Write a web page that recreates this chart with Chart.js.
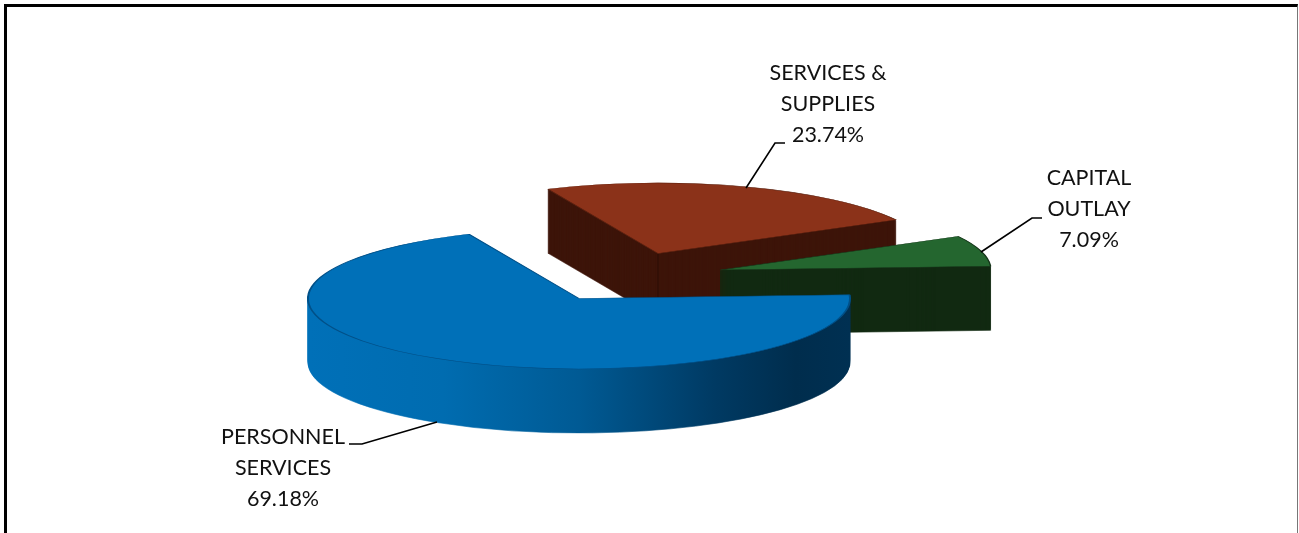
<!DOCTYPE html>
<html lang="en">
<head>
    <meta charset="UTF-8">
    <title>Budget by category</title>
    <style>
        html, body { margin: 0; background: #fff; }
        .wrapper { position: relative; width: 1299px; height: 533px; overflow: hidden; }
        .frame {
            position: absolute; left: 4px; top: 4px; right: 1px; bottom: -10px;
            border-left: 3px solid #000; border-top: 3px solid #000; border-right: 1px solid #777;
        }
        canvas { display: block; }
    </style>
    <script src="https://cdn.jsdelivr.net/npm/chart.js"></script>
</head>
<body>
<div class="wrapper">
    <canvas id="budget-pie" width="1299" height="533"></canvas>
    <div class="frame"></div>
</div>

<script>
    const categories = ['PERSONNEL SERVICES', 'SERVICES & SUPPLIES', 'CAPITAL OUTLAY']
    const shares = [69.18, 23.74, 7.09]
    const topColors = ['#0070b8', '#8b3219', '#24662f']
    const sideColors = ['#005a94', '#3d1409', '#122a12']
    const edgeColors = ['#005088', '#5a2110', '#16351a']

    // label text broken over lines, with the centre of the block and its leader
    const labelLines = [['PERSONNEL', 'SERVICES'], ['SERVICES &', 'SUPPLIES'], ['CAPITAL', 'OUTLAY']]
    const labelCentres = [[283, 437], [828, 73], [1089, 178]]
    const leaders = [
        [[349, 444], [362, 444], [437, 422]],
        [[785, 143], [775, 143], [746, 188]],
        [[1042, 218], [1032, 218], [981, 252]],
    ]

    // how far each slice is pulled out of the pie, in screen pixels
    const pulls = [[-70.5, 32], [8.5, -13], [70.5, 3.5]]
    const paintOrder = [1, 2, 0]
    const tilt = 0.26
    const depth = 64

    const pie3d = {
        id: 'pie3d',
        beforeDatasetsDraw(chart) {
            const ctx = chart.ctx
            const arcs = chart.getDatasetMeta(0).data

            const place = (arc, i, z) => {
                ctx.translate(arc.x + pulls[i][0], arc.y + pulls[i][1] + z)
                ctx.scale(1, tilt)
                ctx.translate(-arc.x, -arc.y)
            }

            for (const i of paintOrder) {
                const arc = arcs[i]
                const base = arc.options
                const r = arc.outerRadius

                // the blue wall gets darker towards the right
                let wall = sideColors[i]
                if (i === 0) {
                    wall = ctx.createLinearGradient(arc.x - r, 0, arc.x + r, 0)
                    wall.addColorStop(0, '#0070b8')
                    wall.addColorStop(0.25, '#006cb0')
                    wall.addColorStop(0.5, '#005a94')
                    wall.addColorStop(0.75, '#003a63')
                    wall.addColorStop(0.9, '#002d4d')
                    wall.addColorStop(1, '#003052')
                }

                // a border in the wall colour keeps the stacked layers from striping
                arc.options = {...base, backgroundColor: wall, borderColor: wall, borderWidth: 1}
                for (let z = depth; z > 0; z--) {
                    ctx.save()
                    place(arc, i, z)
                    arc.draw(ctx)
                    ctx.restore()
                }
                arc.options = base

                // corner where the two cut faces of a pulled slice meet
                if (i === 1) {
                    ctx.beginPath()
                    ctx.moveTo(arc.x + pulls[i][0], arc.y + pulls[i][1])
                    ctx.lineTo(arc.x + pulls[i][0], arc.y + pulls[i][1] + depth)
                    ctx.strokeStyle = '#2a0d05'
                    ctx.lineWidth = 1
                    ctx.stroke()
                }

                ctx.save()
                place(arc, i, 0)
                arc.draw(ctx)
                ctx.restore()
            }
            return false
        },
        afterDraw(chart) {
            const ctx = chart.ctx
            ctx.save()
            ctx.strokeStyle = '#000'
            ctx.lineWidth = 1.6
            for (const points of leaders) {
                ctx.beginPath()
                points.forEach(([x, y], n) => n ? ctx.lineTo(x, y) : ctx.moveTo(x, y))
                ctx.stroke()
            }

            ctx.fillStyle = '#111'
            ctx.font = '21.5px Lato'
            ctx.textAlign = 'center'
            ctx.textBaseline = 'middle'
            categories.forEach((name, i) => {
                const lines = [...labelLines[i], shares[i].toFixed(2) + '%']
                lines.forEach((text, n) => {
                    ctx.fillText(text, labelCentres[i][0], labelCentres[i][1] + n * 31)
                })
            })
            ctx.restore()
        },
    }

    new Chart(document.getElementById('budget-pie'), {
        type: 'pie',
        data: {
            labels: categories,
            datasets: [{
                data: shares,
                backgroundColor: topColors,
                borderColor: edgeColors,
                borderWidth: [2, 1.5, 1.5],
                radius: 271,
                rotation: 87,
            }],
        },
        options: {
            responsive: false,
            animation: false,
            plugins: {
                legend: {display: false},
                tooltip: {enabled: false},
            },
        },
        plugins: [pie3d],
    })
</script>
</body>
</html>
